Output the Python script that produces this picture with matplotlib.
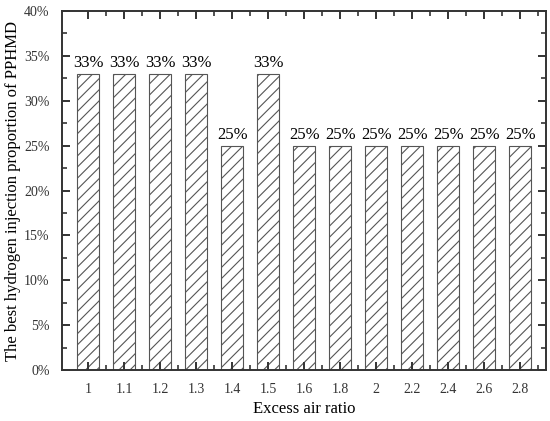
import numpy as np
import matplotlib.pyplot as plt
from matplotlib.ticker import MultipleLocator, PercentFormatter

plt.rcParams['font.family'] = ['Liberation Serif', 'DejaVu Serif']
plt.rcParams['hatch.color'] = '#555555'
plt.rcParams['hatch.linewidth'] = 0.8

ratios = ['1', '1.1', '1.2', '1.3', '1.4', '1.5', '1.6', '1.8', '2', '2.2', '2.4', '2.6', '2.8']
best = [33, 33, 33, 33, 25, 33, 25, 25, 25, 25, 25, 25, 25]

fig = plt.figure(figsize=(5.5, 4.21), dpi=100)
ax = fig.add_axes([0.113, 0.121, 0.880, 0.853])

x = np.arange(len(ratios))
bars = ax.bar(x, best, width=0.6, color='white', edgecolor='#555555',
              linewidth=0.8, hatch='///')
for xi, v in zip(x, best):
    ax.text(xi, v + 0.3, f'{v}%', ha='center', va='bottom', fontsize=12)

ax.set_xlim(-0.72, len(ratios) - 0.28)
ax.set_ylim(0, 40)
ax.set_xticks(x)
ax.set_xticklabels(ratios)
ax.set_xticks(x + 0.5, minor=True)
ax.yaxis.set_major_locator(MultipleLocator(5))
ax.yaxis.set_minor_locator(MultipleLocator(2.5))
ax.yaxis.set_major_formatter(PercentFormatter(decimals=0))

ax.tick_params(which='both', direction='in', top=True, right=True, labelsize=10, colors='#333333')
ax.tick_params(which='major', length=6, width=1.4, pad=9)
ax.tick_params(which='minor', length=3.5, width=1.2)
for s in ax.spines.values():
    s.set_linewidth(1.4)
    s.set_color('#333333')

ax.set_xlabel('Excess air ratio', fontsize=12, labelpad=4)
ax.set_ylabel('The best hydrogen injection proportion of PPHMD', fontsize=12, labelpad=2)

fig.savefig('out.png', dpi=100)
